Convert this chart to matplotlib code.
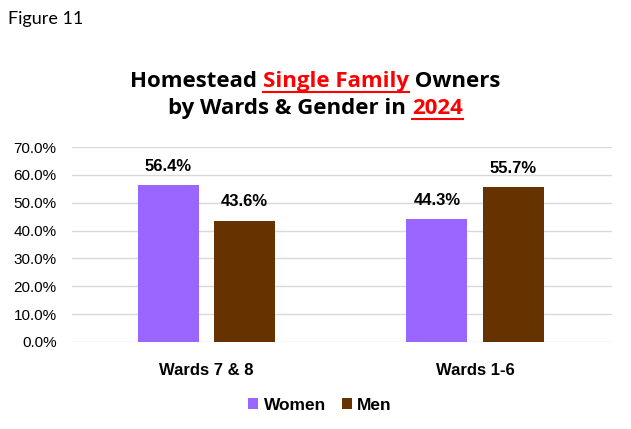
import matplotlib
matplotlib.use("Agg")
import matplotlib.pyplot as plt
import numpy as np

categories = ["Wards 7 & 8", "Wards 1-6"]
women = [56.4, 44.3]
men = [43.6, 55.7]
yticks = [0, 10, 20, 30, 40, 50, 60, 70]

purple = "#9966FF"
brown = "#663300"

fig = plt.figure(figsize=(6.31, 4.29), dpi=100)
ax = fig.add_axes([0.114, 0.203, 0.856, 0.454])

x = np.arange(len(categories))
off = 0.142
w = 0.227
b1 = ax.bar(x - off, women, w, color=purple, label="Women", zorder=3)
b2 = ax.bar(x + off, men, w, color=brown, label="Men", zorder=3)

for bars, vals in [(b1, women), (b2, men)]:
    for r, v in zip(bars, vals):
        ax.annotate(f"{v:.1f}%", (r.get_x() + r.get_width() / 2, v),
                    xytext=(0, 8), textcoords="offset points", ha="center", va="bottom",
                    fontsize=12, fontweight="bold", family="Liberation Sans")

ax.set_xlim(-0.5, 1.51)
ax.set_ylim(0, 70)
ax.set_yticks(yticks)
ax.set_yticklabels([f"{t:.1f}%" for t in yticks], family="Liberation Sans", fontsize=11)
ax.set_xticks(x)
ax.set_xticklabels(categories, fontweight="bold", family="Liberation Sans", fontsize=12)
ax.tick_params(axis="both", length=0)
ax.tick_params(axis="y", pad=11)
ax.tick_params(axis="x", pad=15)
ax.grid(axis="y", color="#d9d9d9", linewidth=1, zorder=0)
for s in ax.spines.values():
    s.set_visible(False)

leg = fig.legend(loc="center", bbox_to_anchor=(0.507, 0.055), ncol=2, frameon=False,
                 handlelength=0.6, handleheight=0.6, handletextpad=0.3, columnspacing=0.9,
                 prop={"family": "Liberation Sans", "weight": "bold", "size": 12.5})

fig.text(0.013, 0.955, "Figure 11", fontsize=13, family="Lato", va="center", ha="left")

# title pieces with colors / underline
lines = [
    [("Homestead ", "black", False), ("Single Family", "#ff0000", True), (" Owners", "black", False)],
    [("by Wards & Gender in ", "black", False), ("2024", "#ff0000", True)],
]
line_y = [0.797, 0.734]
fig.canvas.draw()
r = fig.canvas.get_renderer()
for parts, yy in zip(lines, line_y):
    texts = []
    for s, c, u in parts:
        t = fig.text(0, yy, s, fontsize=16, fontweight="bold", family="Open Sans",
                     color=c, va="baseline", ha="left")
        texts.append(t)
    widths = [t.get_window_extent(r).width for t in texts]
    total = sum(widths)
    start = (fig.bbox.width / 2 - total / 2) + 0
    cur = start
    for t, wd, (s, c, u) in zip(texts, widths, parts):
        t.set_x(cur / fig.bbox.width)
        if u:
            x0 = cur / fig.bbox.width
            x1 = (cur + wd) / fig.bbox.width
            fig.add_artist(plt.Line2D([x0, x1], [yy - 0.012, yy - 0.012], color=c, linewidth=1.5,
                                      transform=fig.transFigure))
        cur += wd

fig.savefig("out.png", dpi=100)
